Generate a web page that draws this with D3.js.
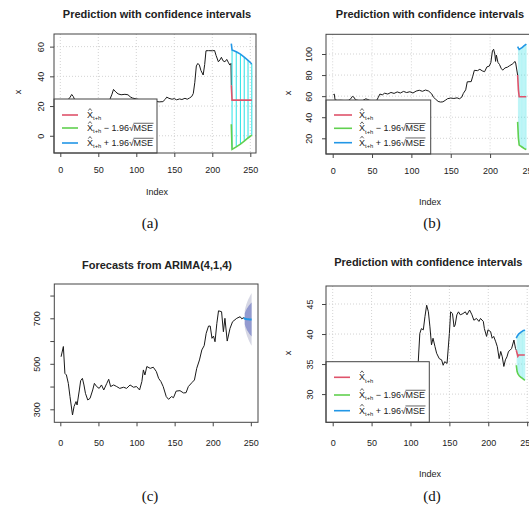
<!DOCTYPE html>
<html>
<head>
<meta charset="utf-8">
<script src="https://cdn.jsdelivr.net/npm/d3@7"></script>
<style>
  body { margin: 0; background: #fff; }
  svg { display: block; font-family: "Liberation Sans", Arial, sans-serif; }
</style>
</head>
<body>
<svg id="fig" width="529" height="508"></svg>
<script>
// ---- data ----
const ticksIndex = [0, 50, 100, 150, 200, 250];

// (a)
const aObs = [[1,23.8],[5,24.0],[10,24.2],[13,26],[15,27.8],[17,26.5],[19,24.2],[25,23.9],[35,24.1],[45,23.8],[55,24.0],[65,24.2],[68,28],[70,31.2],[73,29.5],[76,28.2],[80,27.6],[85,27.9],[89,27.6],[92,26.2],[95,25.4],[100,24.8],[105,24.2],[110,24.0],[115,24.3],[120,23.8],[125,23.2],[130,22.8],[135,23.0],[138,24.5],[140,26.0],[143,25.2],[147,24.6],[150,25.0],[153,24.2],[157,24.8],[160,24.4],[164,25.2],[167,24.6],[170,25.4],[173,26.5],[175,28.5],[177,36],[179,47],[181,48.7],[183,47.6],[185,44],[188,40.9],[190,48],[191.7,57.2],[195,57.3],[200,57.2],[203,57.4],[205,54],[208,49.8],[210,51],[212,52.8],[214,50.5],[216.6,49.8],[219,51.4],[221,49.5],[223,47.6],[224.6,48.7],[225,34]];
const aFcIdx   = [225, 226, 231.5, 237, 242, 247, 252];
const aFcMean  = [34, 24.0, 24.0, 24.0, 24.0, 24.0, 24.0];
const aFcUpper = [62, 57.7, 56.5, 55, 53, 50.8, 48.3];
const aFcLower = [7.7, -9.2, -7.5, -5.6, -3.6, -1.5, 0.5];

// (b)
const bObs = [[1,61.6],[2,62],[3,56.5],[6,56],[10,56.1],[15,55.8],[20,56.0],[23,57.5],[25,59.8],[27,59],[29,56.5],[33,55.9],[38,55.8],[42,57.5],[44,57],[47,56],[52,55.6],[56,56.0],[58,59],[60,62],[63,61.2],[66,62.8],[70,62],[74,63.5],[78,62.6],[82,64],[86,63],[90,64.5],[94,63.4],[98,64.2],[102,63],[106,64.8],[110,65.6],[114,64.6],[118,65.8],[122,64.8],[126,62],[128,59],[131,57],[134,55],[137,54.4],[140,54.6],[143,56],[146,57.6],[150,58.2],[154,57.8],[158,58.4],[161,57.5],[164,59],[166,62.6],[169,66],[171,73.6],[176,73.8],[178,79],[180,84.5],[184,84.2],[187,85.5],[190,84],[193,83.2],[196,87.8],[199,88.5],[201,92],[203,103],[204.5,104.5],[206,100],[207,93],[208,99],[210,92],[212,90],[214,86.5],[216,84.7],[219,86.8],[222,87.5],[225,89],[228,90.3],[230,91.5],[231.5,93],[232.5,91.5],[235,80]];
const bFcIdx   = [235, 236, 237, 238, 239, 240, 241, 242, 243, 244, 245, 246];
const bFcMean  = [80, 66, 59.4, 59.4, 59.4, 59.4, 59.4, 59.4, 59.4, 59.4, 59.4, 59.4];
const bFcUpper = [107, 105.5, 104.3, 104.8, 105.3, 105.8, 106.4, 107, 107.6, 108.2, 108.8, 109.5];
const bFcLower = [35.6, 20, 13.6, 13, 12.5, 12, 11.5, 11, 10.5, 10, 9.7, 9.4];

// (c)
const cObs = [[1,531],[4,576],[6,458],[8,451],[10.5,414],[12.7,356],[16,275],[18,312],[20.6,334],[22,319],[25,385],[26.7,426],[29,436],[31,407],[33,370],[36,341],[39,348],[42.5,385],[44.7,414],[47.7,400],[51,392],[54,407],[57,385],[61,414],[63.5,432],[66,400],[70,407],[74,400],[78,392],[83,397],[87,392],[91.5,407],[96,397],[100,400],[104,385],[107,422],[109,473],[111,451],[113.5,488],[118,480],[122,485],[126,466],[129,436],[132,422],[135,400],[139,356],[142,344],[146,356],[148.5,351],[152,380],[157,382],[161.6,372],[165,373],[168,400],[172.6,417],[176,429],[179,480],[182.6,517],[185.7,561],[188.8,580],[191.4,634],[194.5,666],[196.7,666],[199,612],[201,622],[203,597],[205.4,678],[207.6,733],[211.6,729],[214,641],[216,700],[219,600],[222.7,656],[226,685],[231.5,700],[236,707],[238,698],[241,703]];
const cFcIdx  = [242, 243, 244, 245, 246, 247, 248, 249, 250, 251];
const cFcMean = [698, 697, 697, 696, 696, 696, 695, 695, 695, 695];
const cLo80   = [674, 663, 656, 648, 643, 638, 632, 628, 624, 620];
const cHi80   = [722, 731, 738, 744, 749, 754, 758, 762, 766, 770];
const cLo95   = [661, 645, 633, 622, 614, 606, 598, 591, 585, 579];
const cHi95   = [735, 749, 761, 770, 778, 786, 792, 799, 805, 811];
const cTicksY = [300, 400, 500, 600, 700, 800];
const cLabelsY = [300, 500, 700];

// (d)
const dObs = [[1,31],[15,30],[30,32],[45,29.5],[60,31.5],[75,30],[90,32.5],[100,33.5],[108,34.5],[110,35.4],[112,40.1],[114,40.9],[116.5,40.7],[118.6,42.9],[120.8,44.8],[123,43.7],[125,41.2],[127,38.2],[129,39.3],[131.5,37.9],[133.6,36.8],[137,35.9],[140,35.7],[142,34.8],[144,35.4],[147,35.1],[150,40.1],[151.6,43.7],[154,43.4],[156,41.2],[157.4,41.5],[159.6,43.2],[161.7,43.7],[164,43.2],[167.4,43.4],[170.5,43.7],[172.6,43.2],[176,44],[179,43.2],[181.5,42.3],[184.8,42.6],[188,42.1],[190,42.6],[193.6,42.1],[195,40.9],[197.8,39.6],[199.6,40.7],[203,40.4],[205,39.3],[207,39.6],[209.6,38.7],[211.6,37.9],[214,35.9],[216,37.1],[218,36.2],[220,34.6],[222,35.7],[224,36.2],[226,37.1],[228,37.3],[230,37.6],[233,39],[235,37.6],[236,37.3]];
const dFcIdx   = [236, 237, 238, 239, 240, 241, 242, 243, 244, 245, 246, 247];
const dFcMean  = [37.3, 36.8, 36.3, 36.5, 36.5, 36.5, 36.5, 36.5, 36.5, 36.5, 36.5, 36.5];
const dFcUpper = [39.3, 39.6, 39.8, 40.0, 40.1, 40.2, 40.3, 40.4, 40.5, 40.6, 40.6, 40.7];
const dFcLower = [34.8, 33.8, 33.4, 33.2, 33.0, 32.9, 32.8, 32.7, 32.6, 32.5, 32.4, 32.3];

const legendLabels = [null, "\u2212", "+"];
const legendColors = ["#DF536B", "#61D04F", "#2297E6"];
const captions = ["(a)", "(b)", "(c)", "(d)"];

// ---- drawing ----
const svg = d3.select("#fig");
const ink = "#222";
const boxCol = "#444";

function panel(p) {
  const [l, t, r, b] = p.box;
  const x = d3.scaleLinear().domain(p.xDom).range([l, r]);
  const y = d3.scaleLinear().domain(p.yDom).range([b, t]);
  const g = svg.append("g");

  g.append("clipPath").attr("id", "clip-" + p.id)
    .append("rect").attr("x", l).attr("y", t).attr("width", r - l).attr("height", b - t);
  const plot = g.append("g").attr("clip-path", `url(#clip-${p.id})`);

  if (p.grid) {
    plot.selectAll(".gx").data(ticksIndex).enter().append("line")
      .attr("x1", d => x(d)).attr("x2", d => x(d)).attr("y1", t).attr("y2", b)
      .attr("stroke", "#d3d3d3").attr("stroke-dasharray", "1,2");
    plot.selectAll(".gy").data(p.yTicks).enter().append("line")
      .attr("y1", d => y(d)).attr("y2", d => y(d)).attr("x1", l).attr("x2", r)
      .attr("stroke", "#d3d3d3").attr("stroke-dasharray", "1,2");
  }

  // x axis
  const ax = g.append("g").attr("transform", `translate(0,${b})`)
    .call(d3.axisBottom(x).tickValues(ticksIndex).tickSize(4).tickFormat(d3.format("d")));
  ax.select(".domain").remove();
  ax.selectAll("line").attr("stroke", boxCol);
  ax.selectAll("text").attr("y", p.xLabOff).attr("dy", "0.35em")
    .attr("font-size", 9).attr("fill", ink).attr("font-family", null);

  // y axis, labels parallel to the axis
  const ay = g.append("g").attr("transform", `translate(${l},0)`)
    .call(d3.axisLeft(y).tickValues(p.yTicks).tickSize(4)
      .tickFormat(d => (p.yLabels ? (p.yLabels.includes(d) ? d : "") : d)));
  ay.select(".domain").remove();
  ay.selectAll("line").attr("stroke", boxCol);
  ay.selectAll("text").attr("x", 0).attr("dy", "0.35em")
    .attr("transform", `translate(${-p.yLabOff},0) rotate(-90)`)
    .attr("text-anchor", "middle").attr("font-size", 9).attr("fill", ink).attr("font-family", null);

  g.append("text").attr("x", p.titleXY[0]).attr("y", p.titleXY[1]).attr("dy", "0.35em")
    .attr("text-anchor", "middle").attr("font-weight", "bold").attr("font-size", 11)
    .attr("fill", ink).text(p.title);
  if (p.xlab) {
    g.append("text").attr("x", p.xlab[0]).attr("y", p.xlab[1]).attr("dy", "0.35em")
      .attr("text-anchor", "middle").attr("font-size", 9).attr("fill", ink).text("Index");
  }
  if (p.ylab) {
    g.append("text").attr("transform", `translate(${p.ylab[0]},${p.ylab[1]}) rotate(-90)`)
      .attr("dy", "0.35em").attr("text-anchor", "middle").attr("font-size", 9)
      .attr("fill", ink).text("x");
  }
  return { g, plot, x, y };
}

const line = (x, y) => d3.line().x(d => x(d[0])).y(d => y(d[1]));

function obsLine(P, data) {
  P.plot.append("path").datum(data).attr("d", line(P.x, P.y))
    .attr("fill", "none").attr("stroke", "#1a1a1a").attr("stroke-width", 1);
}

function predIntervals(P, idx, mean, lo, hi, barW, barOp) {
  const bars = d3.zip(idx, lo, hi).slice(1);
  P.plot.selectAll(".bar").data(bars).enter().append("line")
    .attr("x1", d => P.x(d[0])).attr("x2", d => P.x(d[0]))
    .attr("y1", d => P.y(d[1])).attr("y2", d => P.y(d[2]))
    .attr("stroke", "#28E2E5").attr("stroke-width", barW).attr("stroke-opacity", barOp);
  [[mean, legendColors[0]], [lo, legendColors[1]], [hi, legendColors[2]]].forEach(([v, c]) => {
    P.plot.append("path").datum(d3.zip(idx, v)).attr("d", line(P.x, P.y))
      .attr("fill", "none").attr("stroke", c).attr("stroke-width", 1.6);
  });
}

function mathLabel(g, x0, yc, sign) {
  const fs = 9;
  const yb = yc + 3;
  let cx = x0;
  const X = g.append("text").attr("x", cx).attr("y", yb).attr("font-size", fs).attr("fill", ink).text("X");
  const wX = X.node().getComputedTextLength();
  g.append("path")
    .attr("d", `M${cx + wX * 0.22},${yb - fs * 0.82} L${cx + wX / 2},${yb - fs * 1.05} L${cx + wX * 0.78},${yb - fs * 0.82}`)
    .attr("fill", "none").attr("stroke", ink).attr("stroke-width", 0.7);
  cx += wX;
  const sub = g.append("text").attr("x", cx).attr("y", yb + 2.2).attr("font-size", 5.8).attr("fill", ink).text("t+h");
  cx += sub.node().getComputedTextLength();
  if (!sign) return;
  cx += 2.5;
  const rest = g.append("text").attr("x", cx).attr("y", yb).attr("font-size", fs).attr("fill", ink).text(sign + " 1.96");
  cx += rest.node().getComputedTextLength();
  const rad = g.append("text").attr("x", cx).attr("y", yb).attr("font-size", fs).attr("fill", ink).text("\u221A");
  cx += rad.node().getComputedTextLength() - 0.5;
  const mse = g.append("text").attr("x", cx).attr("y", yb).attr("font-size", fs).attr("fill", ink).text("MSE");
  const wM = mse.node().getComputedTextLength();
  g.append("line").attr("x1", cx).attr("x2", cx + wM + 0.5)
    .attr("y1", yb - fs * 0.86).attr("y2", yb - fs * 0.86)
    .attr("stroke", ink).attr("stroke-width", 0.7);
}

function legend(P, L) {
  const [l, t, r, b] = L.box;
  P.g.append("rect").attr("x", l).attr("y", t).attr("width", r - l).attr("height", b - t)
    .attr("fill", "#fff").attr("stroke", boxCol).attr("stroke-width", 1);
  L.rows.forEach((ry, i) => {
    P.g.append("line").attr("x1", L.line[0]).attr("x2", L.line[1]).attr("y1", ry).attr("y2", ry)
      .attr("stroke", legendColors[i]).attr("stroke-width", 1.6);
    mathLabel(P.g, L.textX, ry, legendLabels[i]);
  });
}

function frame(P, box) {
  const [l, t, r, b] = box;
  P.g.append("rect").attr("x", l).attr("y", t).attr("width", r - l).attr("height", b - t)
    .attr("fill", "none").attr("stroke", boxCol).attr("stroke-width", 1);
}

// (a)
const A = panel({ id: "a", box: [54, 34, 256, 153], xDom: [-8.3, 257.5], yDom: [-11.6, 68.5],
  yTicks: [0, 20, 40, 60], grid: true, xLabOff: 17, yLabOff: 13,
  title: "Prediction with confidence intervals", titleXY: [157, 14], xlab: [157, 192], ylab: [18, 92] });
obsLine(A, aObs);
predIntervals(A, aFcIdx, aFcMean, aFcLower, aFcUpper, 1, 1);
legend(A, { box: [54, 99, 157, 153], rows: [115, 128, 143], line: [62, 78], textX: 87 });
frame(A, [54, 34, 256, 153]);

// (b)
const B = panel({ id: "b", box: [326, 34.3, 534, 154], xDom: [-8.5, 255.8], yDom: [5.1, 118.7],
  yTicks: [20, 40, 60, 80, 100], grid: true, xLabOff: 16.7, yLabOff: 17,
  title: "Prediction with confidence intervals", titleXY: [430, 14], xlab: [430, 202], ylab: [288, 93] });
obsLine(B, bObs);
predIntervals(B, bFcIdx, bFcMean, bFcLower, bFcUpper, 0.6, 0.45);
legend(B, { box: [326, 100, 430.7, 154], rows: [115, 128.3, 142.7], line: [334, 352], textX: 359 });
frame(B, [326, 34.3, 534, 154]);

// (c)
const C = panel({ id: "c", box: [54.3, 284, 258, 422.3], xDom: [-7.9, 259.4], yDom: [242.9, 850.8],
  yTicks: cTicksY, yLabels: cLabelsY, grid: false, xLabOff: 20.4, yLabOff: 17,
  title: "Forecasts from ARIMA(4,1,4)", titleXY: [157, 265] });
obsLine(C, cObs);
const area = (lo, hi) => d3.area().x(d => C.x(d[0])).y0(d => C.y(d[1])).y1(d => C.y(d[2]));
C.plot.append("path").datum(d3.zip(cFcIdx, cLo95, cHi95)).attr("d", area())
  .attr("fill", "#d6d7e4");
C.plot.append("path").datum(d3.zip(cFcIdx, cLo80, cHi80)).attr("d", area())
  .attr("fill", "#939acf");
C.plot.append("path").datum([[241, 703]].concat(d3.zip(cFcIdx, cFcMean))).attr("d", line(C.x, C.y))
  .attr("fill", "none").attr("stroke", "#2297E6").attr("stroke-width", 2);
frame(C, [54.3, 284, 258, 422.3]);

// (d)
const D = panel({ id: "d", box: [326, 286, 530.6, 422.3], xDom: [-8.6, 254.4], yDom: [25.3, 48],
  yTicks: [30, 35, 40, 45], grid: true, xLabOff: 20.4, yLabOff: 16,
  title: "Prediction with confidence intervals", titleXY: [428.3, 261.7], xlab: [430, 474], ylab: [288.3, 353] });
obsLine(D, dObs);
predIntervals(D, dFcIdx, dFcMean, dFcLower, dFcUpper, 0.6, 0.45);
legend(D, { box: [326, 361.7, 429.3, 422.3], rows: [377.3, 395, 410.7], line: [334, 350], textX: 359 });
frame(D, [326, 286, 530.6, 422.3]);

// captions
const capPos = [[150, 223], [432, 223], [150, 496], [432, 496]];
svg.selectAll(".cap").data(captions).enter().append("text")
  .attr("x", (d, i) => capPos[i][0]).attr("y", (d, i) => capPos[i][1]).attr("dy", "0.35em")
  .attr("text-anchor", "middle").attr("font-family", "Liberation Serif, Times New Roman, serif")
  .attr("font-size", 15).attr("fill", "#111").text(d => d);
</script>
</body>
</html>
